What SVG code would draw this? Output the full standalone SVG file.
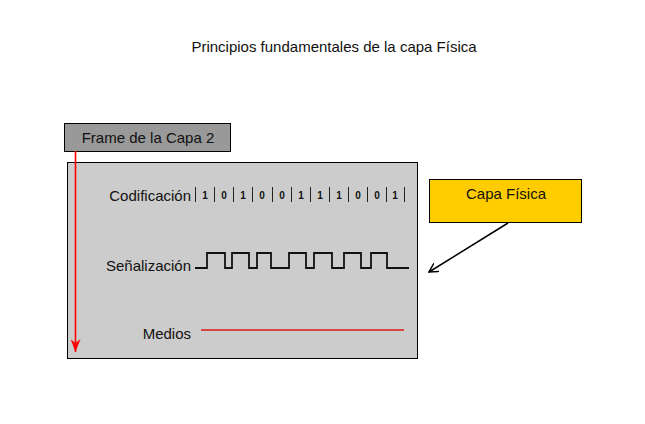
<svg xmlns="http://www.w3.org/2000/svg" width="645" height="424" viewBox="0 0 645 424">
<style>
text{font-family:"Liberation Sans",Arial,sans-serif;fill:#111}
.lbl{font-size:15px}
.bit{font-size:10px;font-weight:bold;text-anchor:middle}
.bar{stroke:#222;stroke-width:1}
</style>
<defs>
<marker id="ar" markerWidth="10" markerHeight="10" refX="9" refY="5" orient="auto" markerUnits="userSpaceOnUse"><path d="M0,0 L9,5 L0,10" fill="none" stroke="#000" stroke-width="1.5"/></marker>
<marker id="rr" markerWidth="10" markerHeight="14" refX="5" refY="13" orient="0" markerUnits="userSpaceOnUse"><path d="M0,0 L5,13 L10,0 L5,4 Z" fill="#f00"/></marker>
</defs>
<rect width="645" height="424" fill="#fff"/>
<text x="334" y="52" font-size="15" text-anchor="middle">Principios fundamentales de la capa Física</text>
<g id="medio">
<rect x="67.5" y="162.5" width="350" height="196" fill="#cccccc" stroke="#000" stroke-width="1"/>
<text class="lbl" x="191" y="201" text-anchor="end">Codificación</text>
<text class="lbl" x="191" y="271" text-anchor="end">Señalización</text>
<text class="lbl" x="191" y="339" text-anchor="end">Medios</text>
<g class="bar">
<line x1="195.5" y1="187" x2="195.5" y2="202"/><line x1="214.5" y1="187" x2="214.5" y2="202"/><line x1="233.5" y1="187" x2="233.5" y2="202"/><line x1="252.5" y1="187" x2="252.5" y2="202"/><line x1="272.5" y1="187" x2="272.5" y2="202"/><line x1="291.5" y1="187" x2="291.5" y2="202"/><line x1="310.5" y1="187" x2="310.5" y2="202"/><line x1="329.5" y1="187" x2="329.5" y2="202"/><line x1="348.5" y1="187" x2="348.5" y2="202"/><line x1="367.5" y1="187" x2="367.5" y2="202"/><line x1="386.5" y1="187" x2="386.5" y2="202"/><line x1="404.5" y1="187" x2="404.5" y2="202"/>
</g>
<text class="bit" x="205" y="199">1</text><text class="bit" x="224" y="199">0</text><text class="bit" x="243" y="199">1</text><text class="bit" x="262" y="199">0</text><text class="bit" x="282" y="199">0</text><text class="bit" x="301" y="199">1</text><text class="bit" x="320" y="199">1</text><text class="bit" x="339" y="199">1</text><text class="bit" x="358" y="199">0</text><text class="bit" x="377" y="199">0</text><text class="bit" x="395" y="199">1</text>
<path d="M195,268 H207 V253 H225 V268 H232 V253 H249 V268 H257 V253 H271 V268 H289 V253 H306 V268 H314 V253 H332 V268 H344 V253 H361 V268 H371 V253 H387 V268 H409" fill="none" stroke="#111" stroke-width="1.8"/>
<line x1="201" y1="330" x2="404" y2="330" stroke="#d84545" stroke-width="2"/>
</g>
<g id="frame">
<rect x="64.5" y="123.5" width="166" height="28" fill="#999999" stroke="#000" stroke-width="1"/>
<text class="lbl" x="148" y="143" text-anchor="middle">Frame de la Capa 2</text>
</g>
<g id="capa">
<rect x="429.5" y="179.5" width="152" height="43" fill="#ffcc00" stroke="#000" stroke-width="1"/>
<text class="lbl" x="506" y="199" text-anchor="middle">Capa Física</text>
</g>
<g id="connectors">
<line x1="75.5" y1="151" x2="75.5" y2="352" stroke="#f00" stroke-width="1.6" marker-end="url(#rr)"/>
<line x1="508" y1="223" x2="429" y2="272" stroke="#000" stroke-width="1.5" marker-end="url(#ar)"/>
</g>
</svg>
